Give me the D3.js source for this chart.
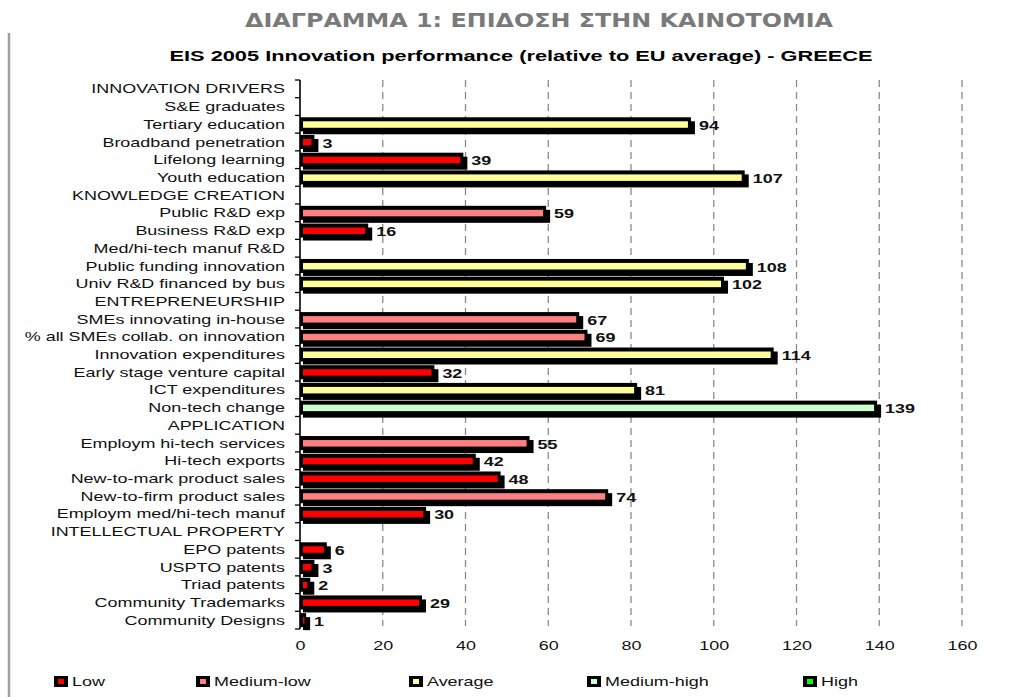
<!DOCTYPE html>
<html>
<head>
<meta charset="utf-8">
<script src="https://cdn.jsdelivr.net/npm/d3@7"></script>
<style>
  body { margin: 0; background: #fff; }
  svg { display: block; }
</style>
</head>
<body>
<script>
// rows of the chart, top to bottom (null value = no bar)
const categories = [
  "INNOVATION DRIVERS", "S&E graduates", "Tertiary education", "Broadband penetration",
  "Lifelong learning", "Youth education", "KNOWLEDGE CREATION", "Public R&D exp",
  "Business R&D exp", "Med/hi-tech manuf R&D", "Public funding innovation",
  "Univ R&D financed by bus", "ENTREPRENEURSHIP", "SMEs innovating in-house",
  "% all SMEs collab. on innovation", "Innovation expenditures", "Early stage venture capital",
  "ICT expenditures", "Non-tech change", "APPLICATION", "Employm hi-tech services",
  "Hi-tech exports", "New-to-mark product sales", "New-to-firm product sales",
  "Employm med/hi-tech manuf", "INTELLECTUAL PROPERTY", "EPO patents", "USPTO patents",
  "Triad patents", "Community Trademarks", "Community Designs"
];
const values = [
  null, null, 94, 3, 39, 107, null, 59, 16, null, 108, 102, null, 67, 69, 114, 32, 81, 139,
  null, 55, 42, 48, 74, 30, null, 6, 3, 2, 29, 1
];
const levels = [
  null, null, "Average", "Low", "Low", "Average", null, "Medium-low", "Low", null, "Average",
  "Average", null, "Medium-low", "Medium-low", "Average", "Low", "Average", "Medium-high",
  null, "Medium-low", "Low", "Low", "Medium-low", "Low", null, "Low", "Low", "Low", "Low", "Low"
];
const legendNames = ["Low", "Medium-low", "Average", "Medium-high", "High"];
const legendColors = ["#ff0000", "#ff8080", "#ffff99", "#ccffcc", "#00ff00"];
const xTicks = [0, 20, 40, 60, 80, 100, 120, 140, 160];

const W = 1027, H = 697;
const K = 1.38; // the original picture is stretched sideways

const data = categories.map((c, i) => ({ name: c, value: values[i], level: levels[i] }));
const color = d3.scaleOrdinal().domain(legendNames).range(legendColors);

const svg = d3.select("body").append("svg")
  .attr("width", W).attr("height", H);

// stretch text horizontally like the source image
const stretch = sel => sel.each(function() {
  const w = this.getComputedTextLength();
  d3.select(this).attr("textLength", w * K).attr("lengthAdjust", "spacingAndGlyphs");
});

// grey rule on the left
svg.append("line")
  .attr("x1", 9).attr("x2", 9).attr("y1", 33).attr("y2", H)
  .attr("stroke", "#a0a0a0").attr("stroke-width", 2.5);

// titles
svg.append("text")
  .attr("x", 539).attr("y", 27)
  .attr("text-anchor", "middle")
  .attr("font-family", "DejaVu Sans").attr("font-weight", "bold").attr("font-size", 20)
  .attr("fill", "#7a7a7a")
  .attr("textLength", 588).attr("lengthAdjust", "spacingAndGlyphs")
  .text("ΔΙΑΓΡΑΜΜΑ 1: ΕΠΙΔΟΣΗ ΣΤΗΝ ΚΑΙΝΟΤΟΜΙΑ");

svg.append("text")
  .attr("x", 521).attr("y", 61)
  .attr("text-anchor", "middle")
  .attr("font-family", "Liberation Sans, Arial").attr("font-weight", "bold").attr("font-size", 14.5)
  .attr("fill", "#000")
  .attr("textLength", 703).attr("lengthAdjust", "spacingAndGlyphs")
  .text("EIS 2005 Innovation performance (relative to EU average) - GREECE");

// scales
const x = d3.scaleLinear().domain([0, 160]).range([300, 962]);
const y = d3.scaleBand().domain(categories).range([80, 629]);
const mid = d => y(d.name) + y.bandwidth() / 2;

// dashed grid
svg.append("g")
  .selectAll("line")
  .data(xTicks.filter(d => d > 0))
  .enter().append("line")
  .attr("x1", d => x(d)).attr("x2", d => x(d))
  .attr("y1", 80).attr("y2", 626)
  .attr("stroke", "#8a8a8a").attr("stroke-width", 1.3)
  .attr("stroke-dasharray", "7,5");

// bars: black shadow, black frame, coloured fill
const bars = svg.append("g")
  .selectAll("g")
  .data(data.filter(d => d.value !== null))
  .enter().append("g");

bars.append("rect")
  .attr("x", 303)
  .attr("y", d => mid(d) - 3)
  .attr("width", d => x(d.value) + 6 - 303)
  .attr("height", 13)
  .attr("fill", "#000");

bars.append("rect")
  .attr("x", 300)
  .attr("y", d => mid(d) - 7)
  .attr("width", d => x(d.value) + 2 - 300)
  .attr("height", 14)
  .attr("fill", "#000");

bars.append("rect")
  .attr("x", 303)
  .attr("y", d => mid(d) - 3)
  .attr("width", d => Math.max(1.5, x(d.value) - 1 - 303))
  .attr("height", 6.5)
  .attr("fill", d => color(d.level));

bars.append("text")
  .attr("x", d => x(d.value) + 10)
  .attr("y", d => mid(d) + 1)
  .attr("dy", "0.35em")
  .attr("font-family", "Liberation Sans, Arial").attr("font-weight", "bold").attr("font-size", 13)
  .attr("fill", "#111")
  .text(d => d.value)
  .call(stretch);

// y axis: line, boundary ticks, labels
const yAxis = svg.append("g");
yAxis.append("line")
  .attr("x1", 300).attr("x2", 300).attr("y1", 80).attr("y2", 629)
  .attr("stroke", "#000").attr("stroke-width", 1.6);
yAxis.selectAll("line.tick")
  .data(d3.range(categories.length + 1))
  .enter().append("line")
  .attr("class", "tick")
  .attr("x1", 295).attr("x2", 300)
  .attr("y1", i => 80 + i * y.step()).attr("y2", i => 80 + i * y.step())
  .attr("stroke", "#000").attr("stroke-width", 1.3);
yAxis.selectAll("text")
  .data(categories)
  .enter().append("text")
  .attr("x", 285)
  .attr("y", d => y(d) + y.bandwidth() / 2)
  .attr("dy", "0.35em")
  .attr("text-anchor", "end")
  .attr("font-family", "Liberation Sans, Arial").attr("font-size", 13)
  .attr("fill", "#111")
  .text(d => d)
  .call(stretch);

// x axis labels only
const xAxis = svg.append("g")
  .attr("transform", "translate(0,629)")
  .call(d3.axisBottom(x).tickValues(xTicks).tickSize(0).tickPadding(12));
xAxis.select(".domain").remove();
xAxis.selectAll("text")
  .attr("font-family", "Liberation Sans, Arial").attr("font-size", 13)
  .attr("fill", "#111")
  .call(stretch);

// legend
const legendX = [54, 196, 409, 587, 803];
const lg = svg.append("g")
  .selectAll("g")
  .data(legendNames)
  .enter().append("g")
  .attr("transform", (d, i) => "translate(" + legendX[i] + ",676)");
lg.append("rect")
  .attr("width", 14).attr("height", 11).attr("fill", "#000");
lg.append("rect")
  .attr("x", 4).attr("y", 3).attr("width", 6).attr("height", 5)
  .attr("fill", d => color(d));
lg.append("text")
  .attr("x", 18).attr("y", 5.5).attr("dy", "0.35em")
  .attr("font-family", "Liberation Sans, Arial").attr("font-size", 13)
  .attr("fill", "#111")
  .text(d => d)
  .call(stretch);
</script>
</body>
</html>
